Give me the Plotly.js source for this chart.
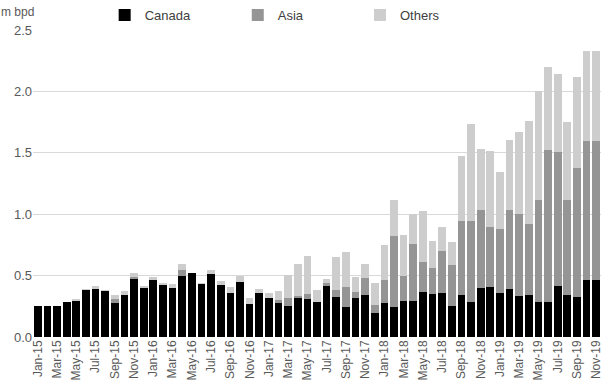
<!DOCTYPE html>
<html><head><meta charset="utf-8">
<script src="https://cdn.plot.ly/plotly-3.0.1.min.js"></script>
<style>html,body{margin:0;padding:0;background:#fff}</style>
</head><body>
<div id="chart" style="width:605px;height:384px"></div>
<script>
const months = ["Jan-15","Feb-15","Mar-15","Apr-15","May-15","Jun-15","Jul-15","Aug-15","Sep-15","Oct-15","Nov-15","Dec-15",
"Jan-16","Feb-16","Mar-16","Apr-16","May-16","Jun-16","Jul-16","Aug-16","Sep-16","Oct-16","Nov-16","Dec-16",
"Jan-17","Feb-17","Mar-17","Apr-17","May-17","Jun-17","Jul-17","Aug-17","Sep-17","Oct-17","Nov-17","Dec-17",
"Jan-18","Feb-18","Mar-18","Apr-18","May-18","Jun-18","Jul-18","Aug-18","Sep-18","Oct-18","Nov-18","Dec-18",
"Jan-19","Feb-19","Mar-19","Apr-19","May-19","Jun-19","Jul-19","Aug-19","Sep-19","Oct-19","Nov-19"];
const canada = [0.25,0.25,0.255,0.283,0.29,0.383,0.39,0.375,0.28,0.345,0.475,0.40,
0.465,0.423,0.396,0.50,0.519,0.43,0.511,0.423,0.356,0.45,0.27,0.358,
0.321,0.275,0.251,0.321,0.308,0.281,0.412,0.324,0.241,0.316,0.345,0.198,
0.278,0.243,0.297,0.297,0.369,0.353,0.361,0.251,0.342,0.283,0.399,0.404,
0.356,0.39,0.334,0.34,0.289,0.283,0.417,0.34,0.329,0.463,0.463];
const asia = [0,0,0,0,0,0,0,0,0.03,0,0.015,0,
0,0,0.005,0.043,0,0,0,0,0,0,0,0,
0,0.03,0.067,0.014,0.04,0,0.029,0.056,0.163,0.053,0.139,0.059,
0.187,0.581,0.203,0.457,0.243,0.211,0.339,0.337,0.605,0.661,0.636,0.489,
0.527,0.643,0.669,0.583,0.829,1.242,1.092,0.778,1.051,1.131,1.131];
const others = [0,0,0,0,0.02,0.005,0.025,0.01,0.035,0.027,0.03,0.017,
0.025,0.017,0.032,0.051,0,0.01,0.032,0.034,0.054,0.047,0.048,0.032,
0.037,0.067,0.188,0.259,0.31,0.099,0.03,0.275,0.286,0.118,0.112,0.182,
0.281,0.289,0.332,0.249,0.415,0.22,0.193,0.185,0.527,0.792,0.497,0.621,
0.457,0.575,0.669,0.837,0.888,0.674,0.631,0.632,0.736,0.736,0.736];
const tickLabels = months.filter((m,i)=>i%2===0);
const seriesNames = ["Canada","Asia","Others"];
const colors = ["#000000","#959595","#cdcdcd"];

const vals=[canada,asia,others];
const legendIds=["legend","legend2","legend3"];
const traces = vals.map((v,k)=>({
  type:"bar", x:months, y:v, name:seriesNames[k],
  marker:{color:colors[k], line:{width:0}},
  legend:legendIds[k], hoverinfo:"x+y+name"
}));
const font="Liberation Sans, Arial, sans-serif";
const legBase = {orientation:"h", y:1.0, yanchor:"top", xanchor:"left", yref:"container", xref:"container",
  font:{family:font,size:13,color:"#404040"}, bgcolor:"rgba(0,0,0,0)", itemwidth:30, tracegroupgap:0};
const layout = {
  width:605, height:384,
  margin:{l:33,r:4,t:25,b:47},
  paper_bgcolor:"#fff", plot_bgcolor:"#fff",
  barmode:"stack", bargap:0.2,
  showlegend:true,
  legend:Object.assign({},legBase,{x:0.173}),
  legend2:Object.assign({},legBase,{x:0.393}),
  legend3:Object.assign({},legBase,{x:0.595}),
  xaxis:{type:"category", tickmode:"array", tickvals:tickLabels, ticktext:tickLabels,
    tickangle:-90, tickfont:{family:font,size:12,color:"#595959"}, showgrid:false,
    ticks:"", showline:false, automargin:false},
  yaxis:{range:[0,2.5], dtick:0.5, tickformat:".1f", showgrid:true, gridcolor:"#d9d9d9", gridwidth:1,
    zeroline:false, showline:false, ticks:"", tickfont:{family:font,size:13,color:"#595959"}, automargin:false},
  annotations:[{text:"m bpd", xref:"paper", yref:"paper", x:0, y:1, xanchor:"right", yanchor:"bottom",
    xshift:3, yshift:9, showarrow:false, font:{family:font,size:12,color:"#595959"}}]
};
Plotly.newPlot("chart", traces, layout, {displayModeBar:false, staticPlot:true});
</script>
</body></html>
